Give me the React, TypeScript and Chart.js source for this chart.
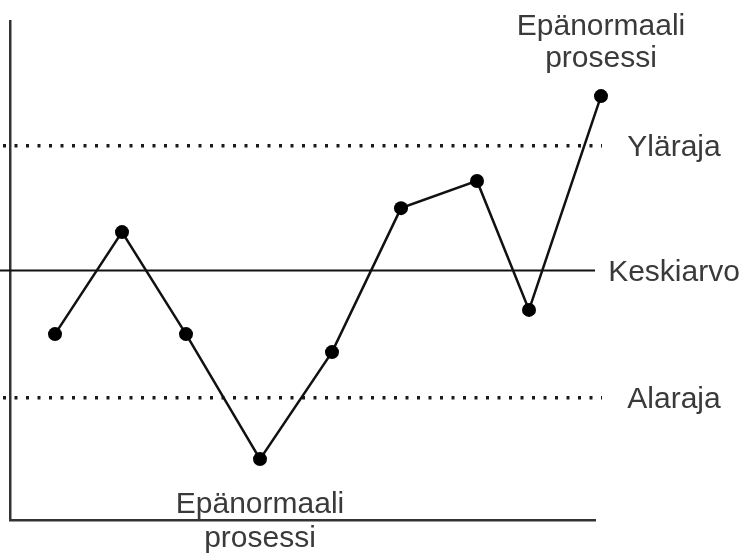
import React, { useEffect, useRef } from "react";
import { Chart, registerables } from "chart.js";

Chart.register(...registerables);

// Process measurements (x = time position, y = measured value)
const sampleX = [45, 112, 176, 250, 322, 391, 467, 519, 591];
const sampleY = [7.45, 11.54, 7.45, 2.44, 6.73, 12.5, 13.59, 8.42, 16.99];

// Control limits
const limitNames = ["Yläraja", "Keskiarvo", "Alaraja"];
const limitValues = [15, 10, 4.9];

// Annotated abnormal points (index into samples) and their label lines
const abnormalIndex = [8, 3];
const abnormalLines = ["Epänormaali", "prosessi"];

const X_MIN = 0;
const X_MAX = 585;
const Y_MIN = 0;
const Y_MAX = 20;

export default function App() {
  const ref = useRef<HTMLCanvasElement | null>(null);

  useEffect(() => {
    const canvas = ref.current;
    if (!canvas) return;

    const font = '30px "Liberation Sans", Arial, sans-serif';
    const textColor = "#3a3a3a";

    const labelPlugin = {
      id: "labels",
      afterDraw(chart: any) {
        const ctx = chart.ctx;
        const xs = chart.scales.x;
        const ys = chart.scales.y;
        const area = chart.chartArea;
        ctx.save();
        ctx.font = font;
        ctx.fillStyle = textColor;
        ctx.textAlign = "center";
        ctx.textBaseline = "alphabetic";
        limitNames.forEach((name, i) => {
          const y = ys.getPixelForValue(limitValues[i]);
          ctx.fillText(name, area.right + 79, y + 10);
        });
        abnormalIndex.forEach((idx, k) => {
          const px = xs.getPixelForValue(sampleX[idx]);
          const py = ys.getPixelForValue(sampleY[idx]);
          const above = k === 0;
          if (above) {
            ctx.fillText(abnormalLines[0], px, py - 61);
            ctx.fillText(abnormalLines[1], px, py - 29);
          } else {
            ctx.fillText(abnormalLines[0], px, py + 54);
            ctx.fillText(abnormalLines[1], px, py + 88);
          }
        });
        ctx.restore();
      },
    };

    const lineData = (v: number, x0: number, x1: number) => [
      { x: x0, y: v },
      { x: x1, y: v },
    ];

    const chart = new Chart(canvas, {
      type: "line",
      data: {
        datasets: [
          {
            label: "process",
            data: sampleX.map((x, i) => ({ x, y: sampleY[i] })),
            borderColor: "#111",
            borderWidth: 2.5,
            pointRadius: 7,
            pointBackgroundColor: "#000",
            pointBorderWidth: 0,
            pointBorderColor: "#000",
            tension: 0,
            clip: false as any,
          },
          {
            label: limitNames[0],
            data: lineData(limitValues[0], -7, 592),
            borderColor: "#1a1a1a",
            borderWidth: 3.5,
            borderDash: [3, 8.5],
            pointRadius: 0,
            clip: false as any,
          },
          {
            label: limitNames[1],
            data: lineData(limitValues[1], -10, 585),
            borderColor: "#111",
            borderWidth: 1.8,
            pointRadius: 0,
            clip: false as any,
          },
          {
            label: limitNames[2],
            data: lineData(limitValues[2], -7, 592),
            borderColor: "#1a1a1a",
            borderWidth: 3.5,
            borderDash: [3, 8.5],
            pointRadius: 0,
            clip: false as any,
          },
        ],
      },
      options: {
        animation: false,
        responsive: false,
        devicePixelRatio: 1,
        layout: { padding: { left: 10, top: 21, right: 147, bottom: 33 } },
        plugins: {
          legend: { display: false },
          tooltip: { enabled: false },
        },
        scales: {
          x: {
            type: "linear",
            min: X_MIN,
            max: X_MAX,
            grid: { display: false, drawTicks: false },
            ticks: { display: false },
            border: { display: true, color: "#333", width: 2.5 },
          },
          y: {
            type: "linear",
            min: Y_MIN,
            max: Y_MAX,
            grid: { display: false, drawTicks: false },
            ticks: { display: false },
            border: { display: true, color: "#333", width: 2.5 },
          },
        },
      },
      plugins: [labelPlugin],
    });

    return () => chart.destroy();
  }, []);

  return (
    <div style={{ position: "fixed", left: 0, top: 0, width: 742, height: 553, background: "#fff" }}>
      <canvas ref={ref} width={742} height={553} style={{ display: "block" }} />
    </div>
  );
}
